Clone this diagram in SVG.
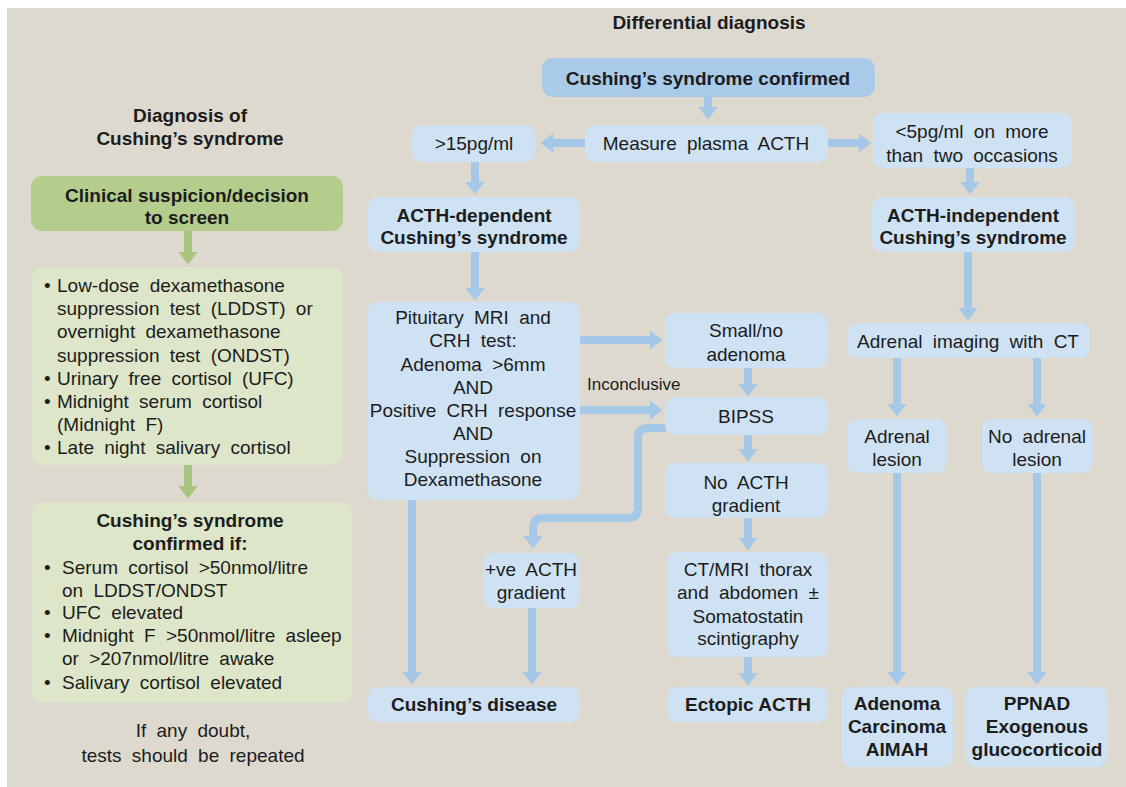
<svg xmlns="http://www.w3.org/2000/svg" width="1126" height="787" viewBox="0 0 1126 787">
<style>
text{font-family:"Liberation Sans",Arial,sans-serif;fill:#1c1c1c;font-size:19px}
.c{text-anchor:middle}
.b{font-weight:bold}
.r{word-spacing:5px}
.bl{fill:#cfe2f3}
.bd{fill:#a9cbe9}
.gd{fill:#b4cd8d}
.gl{fill:#dde6c8}
.cn{fill:none;stroke:#a6c8e8;stroke-width:8}
.cg{fill:none;stroke:#a8c47f;stroke-width:8}
</style>
<defs>
<marker id="ab" markerUnits="userSpaceOnUse" markerWidth="13" markerHeight="20" viewBox="0 0 13 20" refX="0.5" refY="10" orient="auto"><path d="M0,0 L13,10 L0,20 Z" fill="#a6c8e8"/></marker>
<marker id="ag" markerUnits="userSpaceOnUse" markerWidth="13" markerHeight="20" viewBox="0 0 13 20" refX="0.5" refY="10" orient="auto"><path d="M0,0 L13,10 L0,20 Z" fill="#a8c47f"/></marker>
</defs>
<rect x="0" y="0" width="1126" height="787" fill="#ffffff"/>
<rect x="7" y="8" width="1119" height="779" fill="#ddd9cf"/>

<text class="b c" x="709" y="29">Differential diagnosis</text>
<text class="b c" x="190" y="122">Diagnosis of</text>
<text class="b c" x="190" y="145">Cushing’s syndrome</text>

<g id="connectors">
<path class="cg" d="M188,231 V252" marker-end="url(#ag)"/>
<path class="cg" d="M188,465 V486" marker-end="url(#ag)"/>
<path class="cn" d="M708,97 V107" marker-end="url(#ab)"/>
<path class="cn" d="M585,143 H553" marker-end="url(#ab)"/>
<path class="cn" d="M828,143 H859" marker-end="url(#ab)"/>
<path class="cn" d="M475,162 V182" marker-end="url(#ab)"/>
<path class="cn" d="M970,168 V182" marker-end="url(#ab)"/>
<path class="cn" d="M475,252 V288" marker-end="url(#ab)"/>
<path class="cn" d="M968,252 V308" marker-end="url(#ab)"/>
<path class="cn" d="M580,340 H650" marker-end="url(#ab)"/>
<path class="cn" d="M580,410 H650" marker-end="url(#ab)"/>
<path class="cn" d="M748,368 V384" marker-end="url(#ab)"/>
<path class="cn" d="M748,435 V449" marker-end="url(#ab)"/>
<path class="cn" d="M748,518 V538" marker-end="url(#ab)"/>
<path class="cn" d="M748,657 V673" marker-end="url(#ab)"/>
<path class="cn" d="M666,428 H648 Q638,428 638,438 V508 Q638,518 628,518 H543 Q533,518 533,528 V536" marker-end="url(#ab)"/>
<path class="cn" d="M412,500 V672" marker-end="url(#ab)"/>
<path class="cn" d="M532,608 V672" marker-end="url(#ab)"/>
<path class="cn" d="M897,358 V404" marker-end="url(#ab)"/>
<path class="cn" d="M1037,358 V404" marker-end="url(#ab)"/>
<path class="cn" d="M897,473 V672" marker-end="url(#ab)"/>
<path class="cn" d="M1037,473 V672" marker-end="url(#ab)"/>
</g>

<g id="clinical">
<rect class="gd" x="31" y="176" width="312" height="55" rx="11"/>
<text class="b c" x="187" y="202">Clinical suspicion/decision</text>
<text class="b c" x="187" y="224">to screen</text>
</g>

<g id="tests">
<rect class="gl" x="32" y="267" width="311" height="198" rx="11"/>
<text class="r" x="44" y="292">•</text><text class="r" x="57" y="292">Low-dose dexamethasone</text>
<text class="r" x="57" y="315">suppression test (LDDST) or</text>
<text class="r" x="57" y="338">overnight dexamethasone</text>
<text class="r" x="57" y="362">suppression test (ONDST)</text>
<text class="r" x="44" y="385">•</text><text class="r" x="57" y="385">Urinary free cortisol (UFC)</text>
<text class="r" x="44" y="408">•</text><text class="r" x="57" y="408">Midnight serum cortisol</text>
<text class="r" x="57" y="431">(Midnight F)</text>
<text class="r" x="44" y="454">•</text><text class="r" x="57" y="454">Late night salivary cortisol</text>
</g>

<g id="confirmed-if">
<rect class="gl" x="32" y="502" width="320" height="200" rx="11"/>
<text class="b c" x="190" y="527">Cushing’s syndrome</text>
<text class="b c" x="190" y="550">confirmed if:</text>
<text class="r" x="44" y="574">•</text><text class="r" x="62" y="574">Serum cortisol &gt;50nmol/litre</text>
<text class="r" x="62" y="597">on LDDST/ONDST</text>
<text class="r" x="44" y="619">•</text><text class="r" x="62" y="619">UFC elevated</text>
<text class="r" x="44" y="642">•</text><text class="r" x="62" y="642">Midnight F &gt;50nmol/litre asleep</text>
<text class="r" x="62" y="665">or &gt;207nmol/litre awake</text>
<text class="r" x="44" y="689">•</text><text class="r" x="62" y="689">Salivary cortisol elevated</text>
</g>

<g id="doubt">
<text class="r c" x="193" y="737">If any doubt,</text>
<text class="r c" x="193" y="762">tests should be repeated</text>
</g>

<g id="cs-confirmed">
<rect class="bd" x="542" y="58" width="333" height="39" rx="11"/>
<text class="b c" x="708" y="85">Cushing’s syndrome confirmed</text>
</g>
<g id="measure">
<rect class="bl" x="585" y="125" width="243" height="37" rx="10"/>
<text class="r c" x="706" y="150">Measure plasma ACTH</text>
</g>
<g id="gt15">
<rect class="bl" x="412" y="125" width="123" height="37" rx="10"/>
<text class="r c" x="474" y="150">&gt;15pg/ml</text>
</g>
<g id="lt5">
<rect class="bl" x="873" y="113" width="199" height="55" rx="10"/>
<text class="r c" x="972" y="138">&lt;5pg/ml on more</text>
<text class="r c" x="972" y="162">than two occasions</text>
</g>
<g id="acth-dep">
<rect class="bl" x="368" y="197" width="212" height="55" rx="10"/>
<text class="b c" x="474" y="222">ACTH-dependent</text>
<text class="b c" x="474" y="244">Cushing’s syndrome</text>
</g>
<g id="acth-indep">
<rect class="bl" x="872" y="197" width="203" height="55" rx="10"/>
<text class="b c" x="973" y="222">ACTH-independent</text>
<text class="b c" x="973" y="244">Cushing’s syndrome</text>
</g>
<g id="pituitary">
<rect class="bl" x="367" y="302" width="213" height="198" rx="11"/>
<text class="r c" x="473" y="324">Pituitary MRI and</text>
<text class="r c" x="473" y="347">CRH test:</text>
<text class="r c" x="473" y="371">Adenoma &gt;6mm</text>
<text class="r c" x="473" y="394">AND</text>
<text class="r c" x="473" y="417">Positive CRH response</text>
<text class="r c" x="473" y="440">AND</text>
<text class="r c" x="473" y="463">Suppression on</text>
<text class="r c" x="473" y="486">Dexamethasone</text>
</g>
<text x="587" y="390" style="font-size:17px">Inconclusive</text>
<g id="small-no">
<rect class="bl" x="665" y="313" width="163" height="55" rx="10"/>
<text class="r c" x="746" y="337">Small/no</text>
<text class="r c" x="746" y="361">adenoma</text>
</g>
<g id="bipss">
<rect class="bl" x="665" y="397" width="163" height="38" rx="10"/>
<text class="r c" x="746" y="423">BIPSS</text>
</g>
<g id="no-gradient">
<rect class="bl" x="665" y="463" width="163" height="55" rx="10"/>
<text class="r c" x="746" y="489">No ACTH</text>
<text class="r c" x="746" y="512">gradient</text>
</g>
<g id="ct-mri">
<rect class="bl" x="667" y="552" width="161" height="105" rx="10"/>
<text class="r c" x="748" y="576">CT/MRI thorax</text>
<text class="r c" x="748" y="599">and abdomen ±</text>
<text class="r c" x="748" y="623">Somatostatin</text>
<text class="r c" x="748" y="645">scintigraphy</text>
</g>
<g id="ectopic">
<rect class="bl" x="667" y="687" width="161" height="35" rx="10"/>
<text class="b c" x="748" y="711">Ectopic ACTH</text>
</g>
<g id="positive-gradient">
<rect class="bl" x="483" y="553" width="97" height="55" rx="10"/>
<text class="r c" x="531" y="576">+ve ACTH</text>
<text class="r c" x="531" y="599">gradient</text>
</g>
<g id="cushings-disease">
<rect class="bl" x="368" y="687" width="212" height="35" rx="10"/>
<text class="b c" x="474" y="711">Cushing’s disease</text>
</g>
<g id="adrenal-imaging">
<rect class="bl" x="847" y="323" width="243" height="35" rx="10"/>
<text class="r c" x="968" y="348">Adrenal imaging with CT</text>
</g>
<g id="adrenal-lesion">
<rect class="bl" x="847" y="419" width="100" height="54" rx="10"/>
<text class="r c" x="897" y="443">Adrenal</text>
<text class="r c" x="897" y="466">lesion</text>
</g>
<g id="no-adrenal-lesion">
<rect class="bl" x="982" y="419" width="111" height="54" rx="10"/>
<text class="r c" x="1037" y="443">No adrenal</text>
<text class="r c" x="1037" y="466">lesion</text>
</g>
<g id="adenoma">
<rect class="bl" x="842" y="687" width="111" height="80" rx="10"/>
<text class="b c" x="897" y="710">Adenoma</text>
<text class="b c" x="897" y="733">Carcinoma</text>
<text class="b c" x="897" y="756">AIMAH</text>
</g>
<g id="ppnad">
<rect class="bl" x="965" y="687" width="143" height="80" rx="10"/>
<text class="b c" x="1037" y="710">PPNAD</text>
<text class="b c" x="1037" y="733">Exogenous</text>
<text class="b c" x="1037" y="756">glucocorticoid</text>
</g>
</svg>
